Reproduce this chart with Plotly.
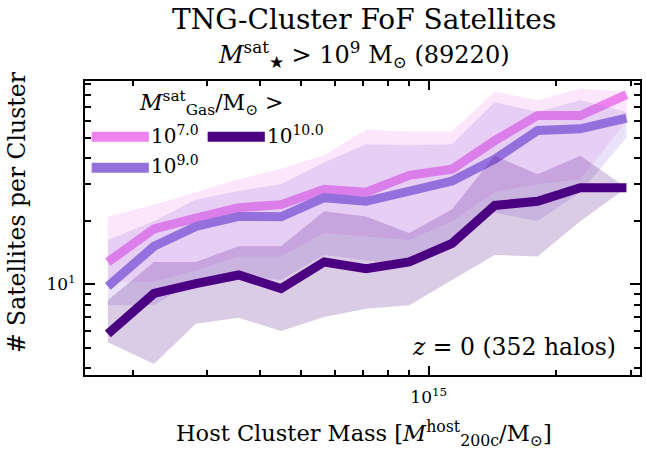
import plotly.graph_objects as go

# ---- data ----
log_mass = [14.242, 14.351, 14.450, 14.551, 14.651, 14.753, 14.852, 14.954, 15.055, 15.156, 15.257, 15.358, 15.467]
host_mass = [10 ** v for v in log_mass]

gas_labels = ["10<sup>7.0</sup>", "10<sup>9.0</sup>", "10<sup>10.0</sup>"]
colors = ["#EE82EE", "#9370DB", "#4B0082"]
fills = ["rgba(238,130,238,0.2)", "rgba(147,112,219,0.2)", "rgba(75,0,130,0.2)"]

n_gas7 = [12.8, 18.4, 20.7, 23.2, 24.0, 28.4, 27.5, 33.1, 35.4, 48.4, 63.8, 63.8, 80.2]
n_gas9 = [9.8, 15.2, 18.9, 21.1, 21.0, 25.9, 24.9, 27.8, 31.1, 39.5, 54.1, 55.1, 61.9]
n_gas10 = [5.82, 9.06, 10.1, 11.1, 9.57, 12.8, 11.9, 12.8, 15.7, 23.8, 24.9, 28.9, 28.9]

up_gas7 = [21.1, 24.0, 27.5, 31.7, 35.6, 41.3, 54.5, 53.5, 53.5, 83.0, 75.3, 85.7, 82.6]
lo_gas7 = [10.3, 10.3, 11.7, 13.6, 13.6, 17.6, 17.0, 16.3, 20.0, 27.5, 30.0, 31.7, 60.0]
up_gas9 = [16.3, 20.0, 25.4, 27.9, 30.0, 38.1, 46.6, 46.1, 46.6, 73.9, 66.2, 75.3, 66.2]
lo_gas9 = [7.96, 7.96, 10.5, 11.0, 10.5, 13.8, 13.0, 12.5, 16.0, 22.0, 20.0, 27.5, 50.0]
up_gas10 = [8.41, 12.8, 12.8, 15.2, 15.2, 22.3, 21.1, 17.6, 22.8, 41.0, 33.5, 41.0, 28.9]
lo_gas10 = [5.31, 4.18, 6.50, 6.95, 6.00, 7.00, 7.67, 7.96, 10.5, 13.8, 13.6, 20.0, 28.9]

series = [(n_gas7, up_gas7, lo_gas7), (n_gas9, up_gas9, lo_gas9), (n_gas10, up_gas10, lo_gas10)]

FONT = "DejaVu Serif"
BLACK = "black"

fig = go.Figure()
for (med, up, lo), col, fc in zip(series, colors, fills):
    fig.add_trace(go.Scatter(
        x=host_mass + host_mass[::-1], y=up + lo[::-1],
        fill="toself", fillcolor=fc, line=dict(width=0), mode="lines",
        hoverinfo="skip", showlegend=False))
    fig.add_trace(go.Scatter(
        x=host_mass, y=med, mode="lines",
        line=dict(color=col, width=9), showlegend=False))

minor_x = [2e14, 3e14, 4e14, 5e14, 6e14, 7e14, 8e14, 9e14, 2e15, 3e15]
minor_y = [4, 5, 6, 7, 8, 9, 20, 30, 40, 50, 60, 70, 80, 90]

fig.update_xaxes(
    type="log", range=[14.188, 15.499],
    tickmode="array", tickvals=[1e15], ticktext=["10<sup>15</sup>"],
    ticks="inside", ticklen=9, tickwidth=1.5, tickcolor=BLACK,
    minor=dict(tickmode="array", tickvals=minor_x, ticks="inside", ticklen=5, tickwidth=1.5, tickcolor=BLACK),
    showline=True, linewidth=2, linecolor=BLACK, mirror="ticks",
    showgrid=False, zeroline=False, ticklabelstandoff=6,
    tickfont=dict(family=FONT, size=17, color=BLACK),
)
fig.update_yaxes(
    type="log", range=[0.569, 1.969],
    tickmode="array", tickvals=[10], ticktext=["10<sup>1</sup>"],
    ticks="inside", ticklen=10, tickwidth=1.5, tickcolor=BLACK,
    minor=dict(tickmode="array", tickvals=minor_y, ticks="inside", ticklen=6, tickwidth=1.5, tickcolor=BLACK),
    showline=True, linewidth=2, linecolor=BLACK, mirror="ticks",
    showgrid=False, zeroline=False, ticklabelstandoff=4,
    tickfont=dict(family=FONT, size=17, color=BLACK),
)

annotations = [
    dict(text="TNG-Cluster FoF Satellites", x=0.503, y=1.2075, xref="paper", yref="paper",
         showarrow=False, font=dict(family=FONT, size=28, color=BLACK), xanchor="center", yanchor="middle"),
    dict(text="<i>M</i><sup>sat</sup><sub>★</sub> > 10<sup>9</sup> M<sub>⊙</sub> (89220)", x=0.503, y=1.09,
         xref="paper", yref="paper", showarrow=False,
         font=dict(family=FONT, size=24, color=BLACK), xanchor="center", yanchor="middle"),
    dict(text="Host Cluster Mass [<i>M</i><sup>host</sup><sub>200c</sub>/M<sub>⊙</sub>]", x=0.503, y=-0.20,
         xref="paper", yref="paper", showarrow=False,
         font=dict(family=FONT, size=22.5, color=BLACK), xanchor="center", yanchor="middle"),
    dict(text="# Satellites per Cluster", x=-0.122, y=0.555, xref="paper", yref="paper", textangle=-90,
         showarrow=False, font=dict(family=FONT, size=23.5, color=BLACK), xanchor="center", yanchor="middle"),
    dict(text="<i>z</i> = 0 (352 halos)", x=0.9605, y=0.095, xref="paper", yref="paper",
         showarrow=False, font=dict(family=FONT, size=23.5, color=BLACK), xanchor="right", yanchor="middle"),
    dict(text="<i>M</i><sup>sat</sup><sub>Gas</sub>/M<sub>⊙</sub> >", x=0.093, y=0.925, xref="paper", yref="paper",
         showarrow=False, font=dict(family=FONT, size=22, color=BLACK), xanchor="left", yanchor="middle"),
]

# legend entries (paper coords): (x0 of line, y, label, color)
leg = [(0.012, 0.81, gas_labels[0], colors[0]),
       (0.012, 0.705, gas_labels[1], colors[1]),
       (0.221, 0.81, gas_labels[2], colors[2])]
shapes = []
for x0, yy, lab, col in leg:
    shapes.append(dict(type="line", xref="paper", yref="paper", x0=x0, x1=x0 + 0.103, y0=yy, y1=yy,
                       line=dict(color=col, width=10)))
    annotations.append(dict(text=lab, x=x0 + 0.104, y=yy + 0.008, xref="paper", yref="paper", showarrow=False,
                            xanchor="left", yanchor="middle", font=dict(family=FONT, size=20, color=BLACK)))

fig.update_layout(
    width=646, height=456,
    margin=dict(l=85, r=4, t=81, b=81),
    paper_bgcolor="white", plot_bgcolor="white",
    annotations=annotations, shapes=shapes, showlegend=False,
)

fig.write_html("out.html")
